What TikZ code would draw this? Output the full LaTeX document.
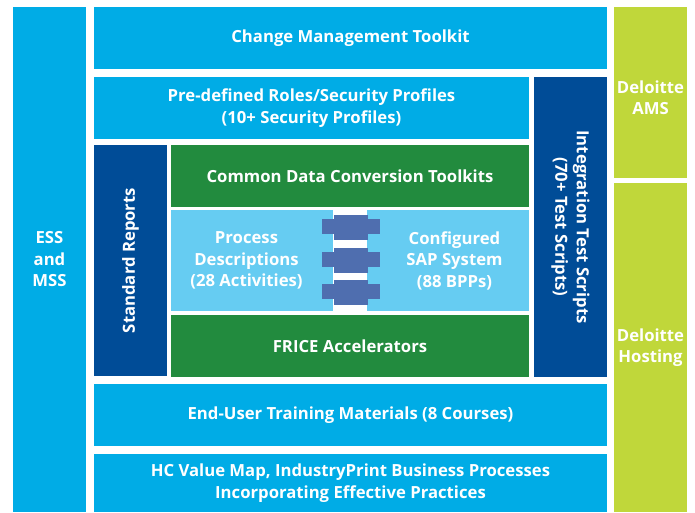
\documentclass[tikz,border=0pt]{standalone}
\usepackage{fontspec}
\setmainfont{Open Sans}
\usepackage{xcolor}
\definecolor{skyblue}{RGB}{0,172,230}
\definecolor{paleblue}{RGB}{102,204,242}
\definecolor{navyblue}{RGB}{0,76,151}
\definecolor{leafgreen}{RGB}{34,139,62}
\definecolor{limegreen}{RGB}{192,215,58}
\definecolor{linkblue}{RGB}{79,110,175}

\tikzset{
  blk/.style={rectangle, inner sep=0pt, outer sep=0pt, text=white, align=center,
    font=\fontsize{16.7}{21.5}\selectfont\bfseries},
}

\begin{document}
\begin{tikzpicture}[x=1pt,y=-1pt]
\useasboundingbox (0,0) rectangle (695,512);

% left column
\node[blk, fill=skyblue, minimum width=73pt, minimum height=505pt] (ess) at (49.5,259.5) {ESS\\and\\MSS};

% middle stack
\node[blk, fill=skyblue, minimum width=513pt, minimum height=62pt] (cmt) at (350.5,38) {Change Management Toolkit};
\node[blk, fill=skyblue, minimum width=435pt, minimum height=62pt] (roles) at (311.5,108) {Pre-defined Roles/Security Profiles\\(10+ Security Profiles)};
\node[blk, fill=navyblue, rotate=-90, minimum width=300pt, minimum height=73pt] (integ) at (570.5,227) {Integration Test Scripts\\(70+ Test Scripts)};
\node[blk, fill=navyblue, rotate=90, minimum width=231pt, minimum height=73pt] (reports) at (130.5,260.5) {Standard Reports};
\node[blk, fill=leafgreen, minimum width=358pt, minimum height=62pt] (conv) at (350,176) {Common Data Conversion Toolkits};
\node[blk, fill=paleblue, minimum width=162pt, minimum height=101pt] (proc) at (252,260.5) {};
\node[blk, fill=paleblue, minimum width=162pt, minimum height=101pt] (sap) at (448,260.5) {};
\node[blk] (proctxt) at (246.5,260.5) {Process\\Descriptions\\(28 Activities)};
\node[blk] (saptxt) at (454.5,260.5) {Configured\\SAP System\\(88 BPPs)};
\node[blk, fill=leafgreen, minimum width=358pt, minimum height=62pt] (frice) at (350,346) {FRICE Accelerators};
\node[blk, fill=skyblue, minimum width=513pt, minimum height=62pt] (training) at (350.5,415) {End-User Training Materials (8 Courses)};
\node[blk, fill=skyblue, minimum width=513pt, minimum height=58pt] (hcmap) at (350.5,483) {HC Value Map, IndustryPrint Business Processes\\Incorporating Effective Practices};

% links between the two middle boxes
\foreach \t in {215,247.5,280}
{
  \fill[linkblue] (322,\t+4) rectangle (380,\t+19);
  \fill[linkblue] (334,\t) rectangle (368,\t+25);
}

% right column
\node[blk, fill=limegreen, minimum width=73pt, minimum height=171pt] (ams) at (650.5,92.5) {};
\node[blk] (amstxt) at (650.5,97.5) {Deloitte\\AMS};
\node[blk, fill=limegreen, minimum width=73pt, minimum height=329pt] (hosting) at (650.5,347.5) {Deloitte\\Hosting};

\end{tikzpicture}
\end{document}
